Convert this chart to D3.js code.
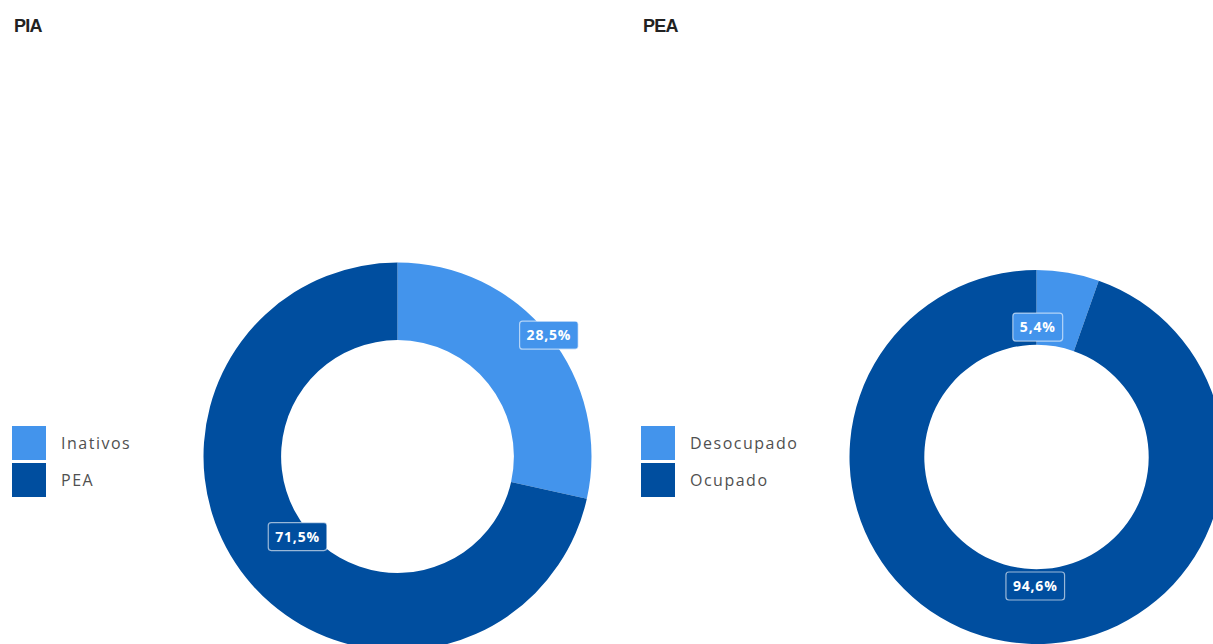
<!DOCTYPE html>
<html lang="pt">
<head>
  <meta charset="UTF-8">
  <title>PIA / PEA</title>
  <script src="https://cdn.jsdelivr.net/npm/d3@7"></script>
  <style>
    html, body { margin: 0; padding: 0; background: #fff; }
    svg { display: block; }
    .title { font: bold 18px "Liberation Sans", Arial, sans-serif; letter-spacing: -0.8px; fill: #222; }
    .legend text { font: 16px "Open Sans", sans-serif; letter-spacing: 1.5px; fill: #505050; }
    .lbl text { font: bold 14px "Open Sans", sans-serif; letter-spacing: 0.8px; fill: #fff; }
  </style>
</head>
<body>
<script>
  // data
  const piaCategories = ['Inativos', 'PEA'];
  const piaValues = [28.5, 71.5];
  const peaCategories = ['Desocupado', 'Ocupado'];
  const peaValues = [5.4, 94.6];
  const colors = ['#4394ec', '#004e9f'];

  const W = 1213, H = 644;
  const svg = d3.select('body').append('svg').attr('width', W).attr('height', H);

  // layout per panel
  const panels = [
    {title: 'PIA', cats: piaCategories, vals: piaValues, x0: 12, cx: 397.5, cy: 456.5, r: 194,
      labelR: [1.0, 0.66], labelShift: [0, 0]},
    {title: 'PEA', cats: peaCategories, vals: peaValues, x0: 641, cx: 1036.5, cy: 457, r: 187,
      labelR: [0.695, 0.69], labelShift: [-0.16, -0.16]}
  ];

  const fmt = v => d3.format('.1f')(v).replace('.', ',') + '%';
  const color = d3.scaleOrdinal().range(colors);

  panels.forEach(p => {
    const g = svg.append('g');
    g.append('text').attr('class', 'title')
      .attr('x', p.x0 + 2).attr('y', 32).text(p.title);

    // legend
    const leg = g.append('g').attr('class', 'legend');
    const items = leg.selectAll('g').data(p.cats).join('g')
      .attr('transform', (d, i) => `translate(${p.x0},${426 + i * 37})`);
    items.append('rect').attr('width', 34).attr('height', 34)
      .attr('fill', (d, i) => colors[i]);
    items.append('text').attr('x', 49).attr('y', 17).attr('dy', '0.35em').text(d => d);

    const pie = d3.pie().sort(null).value(d => d);
    const arcs = pie(p.vals);
    const arc = d3.arc().innerRadius(p.r * 0.6).outerRadius(p.r);

    const donut = g.append('g').attr('transform', `translate(${p.cx},${p.cy})`);
    donut.selectAll('path').data(arcs).join('path')
      .attr('d', arc)
      .attr('fill', (d, i) => color(i));

    const lbls = donut.selectAll('g.lbl').data(arcs).join('g').attr('class', 'lbl')
      .attr('transform', (d, i) => {
        const rr = p.r * p.labelR[i];
        const a = (d.startAngle + d.endAngle) / 2 + p.labelShift[i];
        return `translate(${rr * Math.sin(a)},${-rr * Math.cos(a)})`;
      });
    lbls.append('text').attr('text-anchor', 'middle').attr('dy', '0.36em')
      .text(d => fmt(d.data));
    lbls.each(function(d, i) {
      const t = d3.select(this).select('text');
      const bb = t.node().getBBox();
      d3.select(this).insert('rect', 'text')
        .attr('x', bb.x - 7).attr('y', -14)
        .attr('width', bb.width + 14).attr('height', 28)
        .attr('rx', 3)
        .attr('fill', color(i))
        .attr('stroke', 'rgba(255,255,255,0.6)')
        .attr('stroke-width', 1.2);
    });
  });
</script>
</body>
</html>
